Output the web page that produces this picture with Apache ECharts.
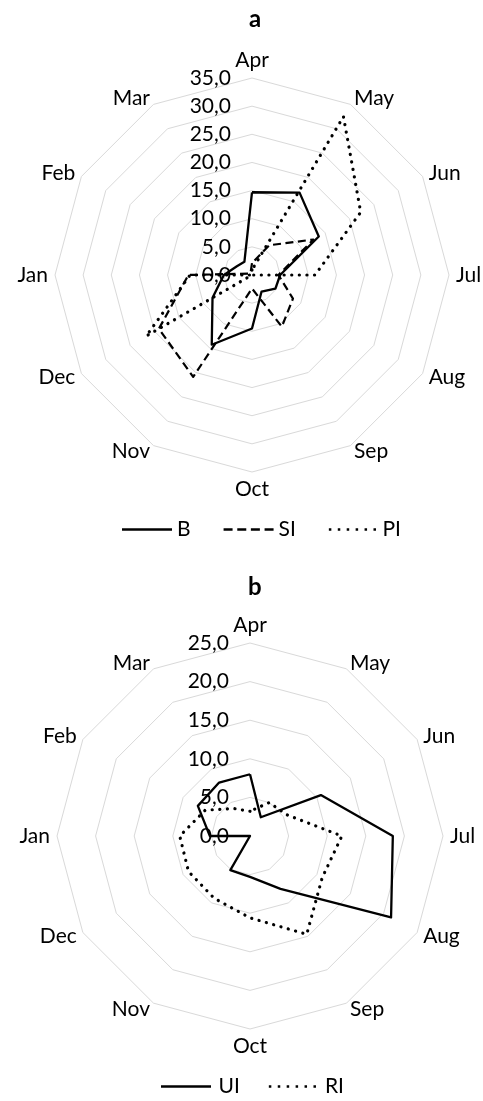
<!DOCTYPE html>
<html>
<head>
<meta charset="utf-8">
<script src="https://cdn.jsdelivr.net/npm/echarts@6/dist/echarts.min.js"></script>
<style>
html,body{margin:0;padding:0;background:#fff;}
#chart{width:483px;height:1101px;}
</style>
</head>
<body>
<div id="chart"></div>
<script>
// ---- data ----
const months = ['Apr','May','Jun','Jul','Aug','Sep','Oct','Nov','Dec','Jan','Feb','Mar'];
const valuesB  = [14.7, 16.9, 13.7, 5.0, 4.8, 3.4, 9.5, 14.3, 8.1, 5.0, 3.1, 2.7];
const valuesSI = [2.1, 6.1, 12.6, 4.7, 8.4, 10.6, 2.4, 20.9, 19.1, 11.3, 0.5, 0.5];
const valuesPI = [0.9, 32.5, 22.3, 11.2, 0, 0, 0, 0, 21.7, 11.0, 0, 0];
const valuesUI = [8.0, 2.8, 10.6, 18.5, 21.1, 7.9, 5.3, 5.1, 0, 5.2, 7.8, 8.0];
const valuesRI = [3.2, 5.0, 5.5, 11.9, 10.8, 14.7, 10.6, 9.3, 9.2, 9.1, 6.7, 4.1];
const ticksA = [0, 5, 10, 15, 20, 25, 30, 35];
const ticksB = [0, 5, 10, 15, 20, 25];
const seriesNamesA = ['B', 'SI', 'PI'];
const seriesNamesB = ['UI', 'RI'];

// ---- helpers ----
// ECharts radar places indicators counter-clockwise; reorder so months run clockwise
function cw(arr) { return [arr[0]].concat(arr.slice(1).reverse()); }
const FONT = 'Lato';
const TXT = '#000';
function fmt(v) { return Number(v).toFixed(1).replace('.', ','); }

function indicators(ticks) {
  const mx = ticks[ticks.length - 1], mn = ticks[0];
  return cw(months).map(function (m) {
    const ind = { name: m, min: mn, max: mx };
    if (m === 'Apr') {
      ind.nameTextStyle = { verticalAlign: 'bottom' };
      ind.axisLabel = { show: true, formatter: fmt, fontSize: 21, fontFamily: FONT, color: TXT, margin: 21, showMinLabel: true, showMaxLabel: true };
    }
    if (m === 'Oct') ind.nameTextStyle = { verticalAlign: 'top' };
    return ind;
  });
}

function radarCfg(center, radius, ticks) {
  return {
    center: center, radius: radius, startAngle: 90, shape: 'polygon',
    splitNumber: ticks.length - 1,
    indicator: indicators(ticks),
    nameGap: 7,
    axisName: { color: TXT, fontSize: 21, fontFamily: FONT, verticalAlign: 'middle' },
    splitLine: { lineStyle: { color: '#d9d9d9', width: 1 } },
    splitArea: { show: false },
    axisLine: { show: false },
    axisTick: { show: false },
    axisLabel: { show: false }
  };
}

const styles = {
  solid:  { type: 'solid', width: 2.3, color: '#000' },
  dashed: { type: [8, 4.5], width: 2.2, color: '#000' },
  dotted: { type: [0.1, 7.5], width: 3.2, color: '#000', cap: 'round' }
};
const icons = {
  solid:  'path://M0,0H50V2.5H0Z',
  dashed: 'path://M0,0H9V2.5H0Z M13.7,0H22.7V2.5H13.7Z M27.3,0H36.3V2.5H27.3Z M41,0H50V2.5H41Z',
  dotted: 'path://M0,0H2.8V2.8H0Z M10,0H12.8V2.8H10Z M20,0H22.8V2.8H20Z M30,0H32.8V2.8H30Z M40,0H42.8V2.8H40Z M50,0H52.8V2.8H50Z'
};

function item(name, values, kind) {
  return { name: name, value: cw(values), lineStyle: styles[kind], itemStyle: { color: '#000' } };
}

const option = {
  animation: false,
  backgroundColor: '#fff',
  title: [
    { text: 'a', left: 244, top: 2, textStyle: { fontSize: 24, fontWeight: 'bold', fontFamily: FONT, color: TXT } },
    { text: 'b', left: 243, top: 570, textStyle: { fontSize: 24, fontWeight: 'bold', fontFamily: FONT, color: TXT } }
  ],
  legend: [
    {
      left: 117, top: 514, itemWidth: 50, itemHeight: 2.5, itemGap: 33,
      textStyle: { fontSize: 21, fontFamily: FONT, color: TXT },
      itemStyle: { borderWidth: 0 }, lineStyle: { width: 0 },
      data: [
        { name: seriesNamesA[0], icon: icons.solid },
        { name: seriesNamesA[1], icon: icons.dashed },
        { name: seriesNamesA[2], icon: icons.dotted }
      ]
    },
    {
      left: 156, top: 1071, itemWidth: 55, itemHeight: 2.5, itemGap: 29,
      textStyle: { fontSize: 21, fontFamily: FONT, color: TXT },
      itemStyle: { borderWidth: 0 }, lineStyle: { width: 0 },
      data: [
        { name: seriesNamesB[0], icon: icons.solid },
        { name: seriesNamesB[1], icon: icons.dotted }
      ]
    }
  ],
  radar: [
    radarCfg([252, 275], 197, ticksA),
    radarCfg([250, 836], 193, ticksB)
  ],
  series: [
    { type: 'radar', radarIndex: 0, symbol: 'none', silent: true,
      data: [ item(seriesNamesA[0], valuesB, 'solid'), item(seriesNamesA[1], valuesSI, 'dashed'), item(seriesNamesA[2], valuesPI, 'dotted') ] },
    { type: 'radar', radarIndex: 1, symbol: 'none', silent: true,
      data: [ item(seriesNamesB[0], valuesUI, 'solid'), item(seriesNamesB[1], valuesRI, 'dotted') ] }
  ]
};

const chart = echarts.init(document.getElementById('chart'), null, { renderer: 'canvas' });
chart.setOption(option);
</script>
</body>
</html>
